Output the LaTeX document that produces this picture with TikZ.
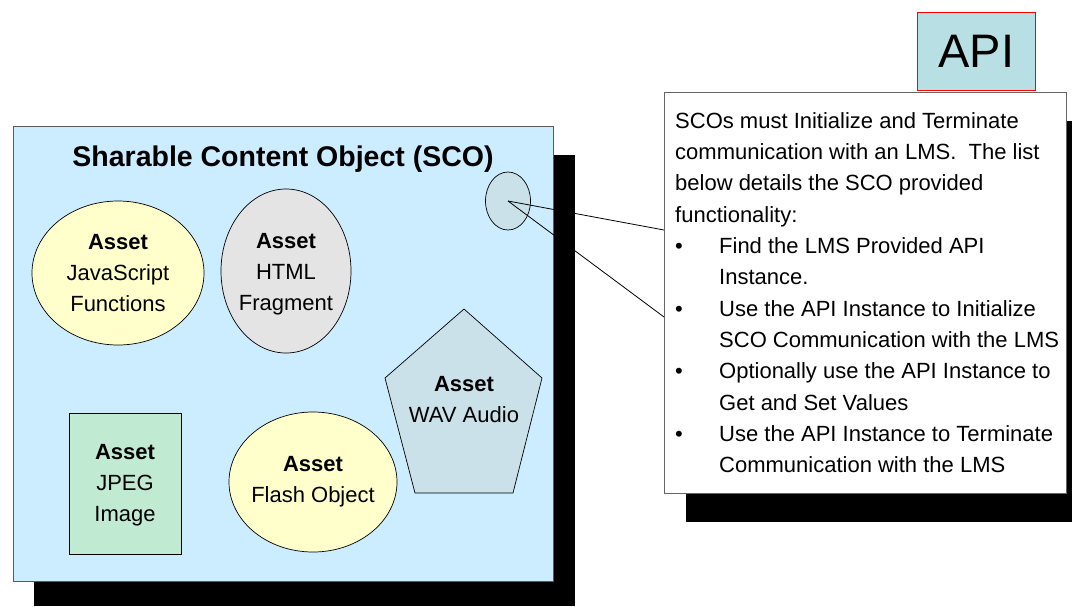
\documentclass[tikz,border=0pt]{standalone}
\usepackage{fontspec}
\setmainfont{Liberation Sans}
\usepackage{tikz}
\usetikzlibrary{
    shapes.geometric,
    positioning,
    calc
}

\definecolor{scoblue}{HTML}{CCECFF}
\definecolor{jsyellow}{HTML}{FFFFCC}
\definecolor{htmlgray}{HTML}{E4E4E4}
\definecolor{wavblue}{HTML}{CAE1E9}
\definecolor{jpeggreen}{HTML}{C0EBD2}
\definecolor{apiteal}{HTML}{B8DFE3}

\newcommand\assetfont{\fontsize{22}{31}\selectfont}
\newcommand\callfont{\fontsize{22}{31.3}\selectfont}
\newcommand\callbul{\makebox[44pt][l]{\textbullet}}
\newcommand\callind{\hspace*{44pt}}

\begin{document}
\begin{tikzpicture}[
    x=1pt, y=-1pt,
    shadowbox/.style={fill=black},
    assetshape/.style={draw=black, line width=0.7pt, inner sep=0pt},
    assettext/.style={align=center, font=\assetfont},
    pointer/.style={draw=black, line width=0.8pt}
]
    \useasboundingbox (0,0) rectangle (1072,606);

    % Shadows
    \fill [shadowbox] (34,155) rectangle (575,606);
    \fill [shadowbox] (686,121) rectangle (1072,522);

    % SCO container
    \node (sco) [draw=black!65, line width=0.8pt, fill=scoblue, minimum width=540pt, minimum height=455pt] at (283,353.5) {};
    \node (title) [anchor=base, font=\fontsize{28.5}{34}\selectfont\bfseries] at (283,166) {Sharable Content Object (SCO)};

    % Assets
    \node (js) [assetshape, ellipse, fill=jsyellow, minimum width=172pt, minimum height=144pt,
        label={[assettext]center:{\textbf{Asset}\\JavaScript\\Functions}}] at (118,273) {};
    \node (html) [assetshape, ellipse, fill=htmlgray, minimum width=130pt, minimum height=164pt,
        label={[assettext, yshift=-3pt]center:{\textbf{Asset}\\HTML\\Fragment}}] at (286,271) {};
    \node (jpeg) [assetshape, rectangle, fill=jpeggreen, minimum width=112pt, minimum height=141pt,
        label={[assettext, yshift=-2pt]center:{\textbf{Asset}\\JPEG\\Image}}] at (125,483.5) {};
    \node (flash) [assetshape, ellipse, fill=jsyellow, minimum width=168pt, minimum height=140pt,
        label={[assettext]center:{\textbf{Asset}\\Flash Object}}] at (313,482) {};

    % WAV pentagon
    \draw [assetshape, fill=wavblue] (464,309) -- (542,378) -- (513,493) -- (415,493) -- (385,378) -- cycle;
    \node (wav) [assettext] at (464,399.5) {\textbf{Asset}\\WAV Audio};

    % API reference
    \node (apiref) [assetshape, ellipse, fill=wavblue, minimum width=45pt, minimum height=58pt] at (508,201) {};

    % Callout
    \node (callout) [draw=black!60, line width=0.8pt, fill=white, minimum width=402pt, minimum height=401pt] at (865,292.5) {};
    \node (calltext) [anchor=north west, align=left, inner sep=0pt, font=\callfont] at (675,112.2)
        {SCOs must Initialize and Terminate\\
         communication with an LMS.\ \ The list\\
         below details the SCO provided\\
         functionality:\\
         \callbul Find the LMS Provided API\\
         \callind Instance.\\
         \callbul Use the API Instance to Initialize\\
         \callind SCO Communication with the LMS\\
         \callbul Optionally use the API Instance to\\
         \callind Get and Set Values\\
         \callbul Use the API Instance to Terminate\\
         \callind Communication with the LMS};

    % Pointer lines
    \coordinate (tipa) at (664,230);
    \coordinate (tipb) at (664,317);
    \draw [pointer] (apiref.center) -- (tipa);
    \draw [pointer] (apiref.center) -- (tipb);

    % API box
    \node (api) [draw=red, line width=1.6pt, fill=apiteal, minimum width=118pt, minimum height=78pt,
        font=\fontsize{47}{56}\selectfont] at (976.5,51.5) {API};

\end{tikzpicture}
\end{document}
